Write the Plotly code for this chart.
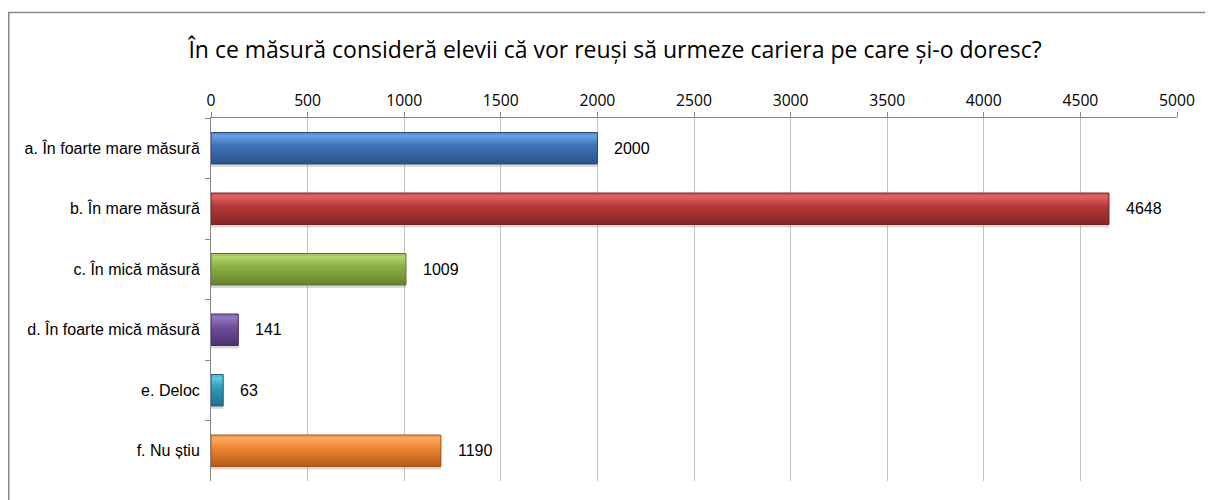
import plotly.graph_objects as go

title = "În ce măsură consideră elevii că vor reuși să urmeze cariera pe care și-o doresc?"
categories = ["a. În foarte mare măsură", "b. În mare măsură", "c. În mică măsură",
              "d. În foarte mică măsură", "e. Deloc", "f. Nu știu"]
values = [2000, 4648, 1009, 141, 63, 1190]
main_colors = ["#3F74B9", "#B83A3A", "#8DB345", "#6F509B", "#2F9DBA", "#EF8632"]
light_colors = ["#6A9FE2", "#E06262", "#B2D46A", "#9676C4", "#5CCBE8", "#FBAA5E"]
dark_colors = ["#2A5288", "#842626", "#63822C", "#4A3270", "#1D6F88", "#B55C1A"]
edge_colors = ["#284B7A", "#732222", "#58762A", "#432E63", "#1A6379", "#A0501A"]
x_ticks = [0, 500, 1000, 1500, 2000, 2500, 3000, 3500, 4000, 4500, 5000]


def hex2rgb(h):
    h = h.lstrip("#")
    return [int(h[i:i + 2], 16) for i in (0, 2, 4)]


def mix(a, b, t):
    ca, cb = hex2rgb(a), hex2rgb(b)
    return "rgb(%d,%d,%d)" % tuple(round(ca[i] + (cb[i] - ca[i]) * t) for i in range(3))


def band_color(light, main, dark, t):
    # t: 0 at visual top of bar, 1 at visual bottom
    if t < 0.12:
        return mix(main, light, 0.55 + t / 0.12 * 0.45)
    if t < 0.4:
        return mix(light, main, (t - 0.12) / 0.28)
    return mix(main, dark, (t - 0.4) / 0.6)


BAR_W = 0.52
N_BANDS = 13
band_w = BAR_W / N_BANDS

fig = go.Figure()
# soft shadow under bars
fig.add_trace(go.Bar(
    y=categories, x=values, orientation="h", width=BAR_W, offset=-BAR_W / 2 + 0.05,
    marker=dict(color="rgba(150,150,150,0.35)", line=dict(width=0)),
    hoverinfo="skip", showlegend=False,
))
# solid base so no seams show between bands
fig.add_trace(go.Bar(
    y=categories, x=values, orientation="h", width=BAR_W, offset=-BAR_W / 2,
    marker=dict(color=main_colors, line=dict(width=0)),
    hoverinfo="skip", showlegend=False,
))
# vertical gradient bands (bevel look); each band overlaps the next, later ones cover
for k in range(N_BANDS):
    t = (k + 0.5) / N_BANDS
    cols = [band_color(l, m, d, t) for l, m, d in zip(light_colors, main_colors, dark_colors)]
    w = band_w * 2.0 if k < N_BANDS - 1 else band_w
    fig.add_trace(go.Bar(
        y=categories, x=values, orientation="h",
        width=w, offset=-BAR_W / 2 + k * band_w,
        marker=dict(color=cols, line=dict(width=0)),
        hoverinfo="skip", showlegend=False,
    ))
# outline
fig.add_trace(go.Bar(
    y=categories, x=values, orientation="h", width=BAR_W, offset=-BAR_W / 2,
    marker=dict(color="rgba(0,0,0,0)", line=dict(color=edge_colors, width=1)),
    hoverinfo="skip", showlegend=False,
))

for c, v in zip(categories, values):
    fig.add_annotation(x=v, y=c, text=str(v), showarrow=False, xanchor="left",
                       xshift=15, font=dict(family="Liberation Sans, Arial", size=16, color="#000000"))

W, H = 1205, 492
L, R, T, B = 203, 36, 110, 19
PW, PH = W - L - R, H - T - B

fig.update_layout(
    width=W, height=H,
    paper_bgcolor="white", plot_bgcolor="white",
    barmode="overlay",
    margin=dict(l=L, r=R, t=T, b=B),
    title=dict(text=title, x=607 / W, xanchor="center", y=1 - 42 / H, yanchor="middle",
               font=dict(family="Open Sans, Calibri, sans-serif", size=23, color="#000000")),
    xaxis=dict(side="top", range=[0, 5000], tickvals=x_ticks, ticktext=[str(t) for t in x_ticks],
               showgrid=True, gridcolor="#C4C4C4", gridwidth=1,
               showline=True, linecolor="#868686", linewidth=1,
               ticks="outside", ticklen=5, tickcolor="#868686",
               tickfont=dict(family="Open Sans, Calibri, sans-serif", size=15.7, color="#000000"),
               zeroline=False, fixedrange=True),
    yaxis=dict(autorange="reversed", showline=True, linecolor="#868686", linewidth=1,
               ticks="outside", ticklen=5, tickcolor="#868686", tickson="boundaries",
               tickfont=dict(family="Liberation Sans, Arial", size=16, color="#000000"),
               showgrid=False, ticklabelstandoff=7),
    shapes=[dict(type="rect", xref="paper", yref="paper",
                 x0=(0.75 - L) / PW, x1=(1215 - L) / PW,
                 y0=(PH + T - 530) / PH, y1=(PH + T - 4.5) / PH,
                 line=dict(color="#888888", width=1.5), layer="below")],
)

fig.write_html("out.html")
